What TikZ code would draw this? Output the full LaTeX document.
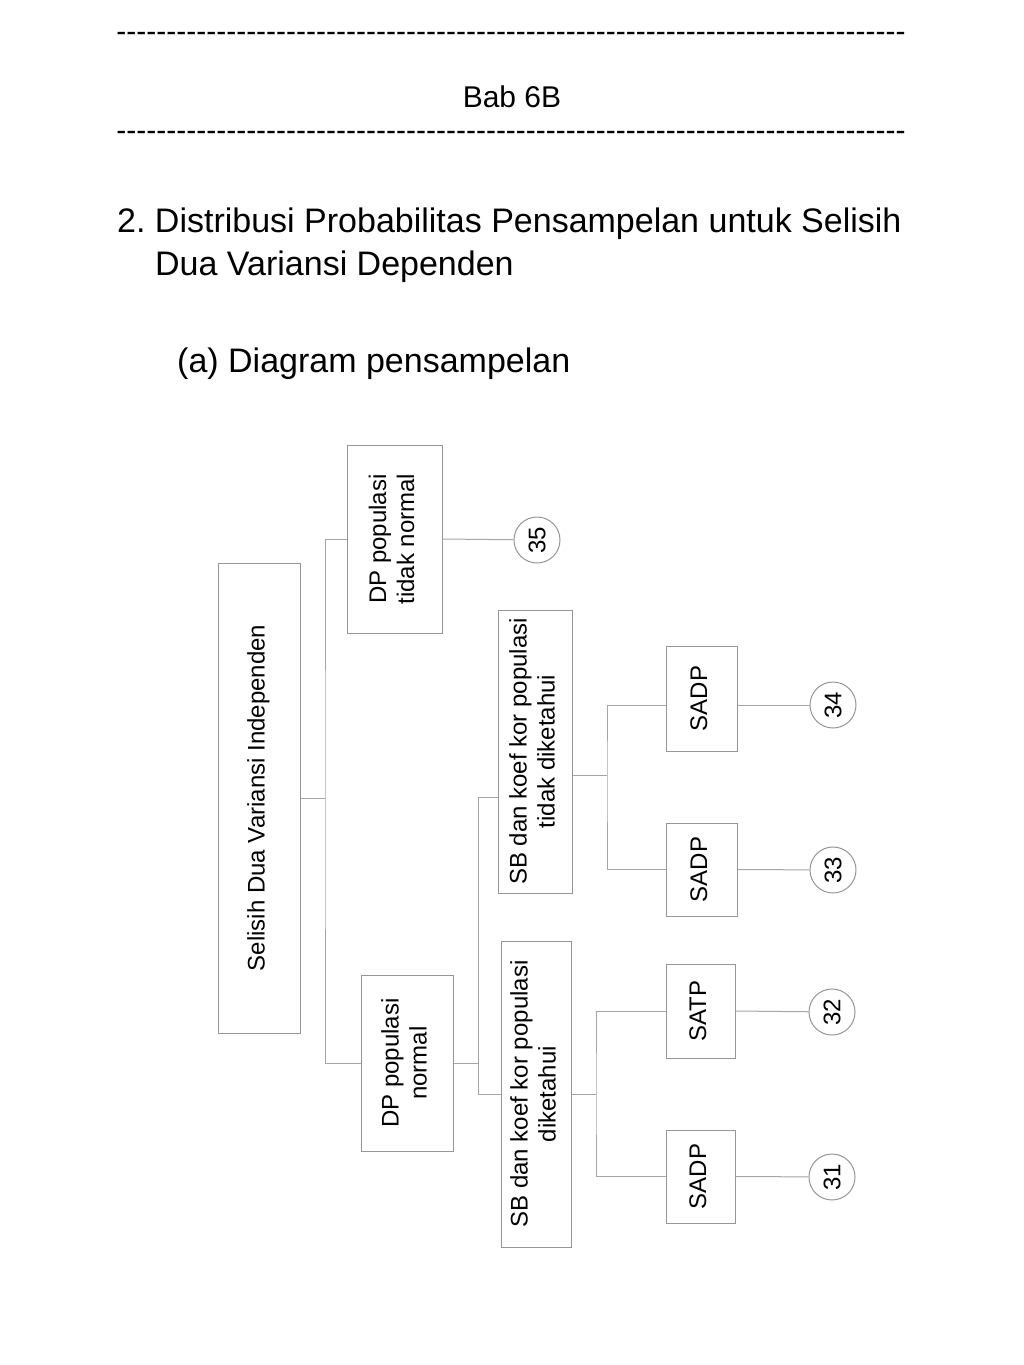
\documentclass[tikz,border=0pt]{standalone}
\usepackage{fontspec}
\setmainfont{Liberation Sans}
\usetikzlibrary{positioning}
\definecolor{boxgray}{RGB}{150,150,150}
\definecolor{linegray}{RGB}{165,165,165}
\newcommand{\dashrow}{\foreach \k in {1,...,79}{-}}
\newcommand{\vlabel}[1]{\rotatebox{90}{\begin{tabular}{@{}c@{}}#1\end{tabular}}}
\frenchspacing

\begin{document}
\begin{tikzpicture}[x=1pt, y=-1pt, every node/.style={font=\fontsize{24}{28}\selectfont},
      box/.style={draw=boxgray, line width=1pt, inner sep=0pt, fill=white},
      num/.style={draw=boxgray, line width=1pt, circle, minimum size=46pt, inner sep=0pt, fill=white},
      head/.style={font=\fontsize{30}{36}\selectfont},
      title/.style={font=\fontsize{34}{40}\selectfont, anchor=base west, inner sep=0pt},
      link/.style={draw=linegray, line width=1pt}]
    \useasboundingbox (0,0) rectangle (1024,1365);
    % header
    \node[head] (rule1) at (511,37) {\dashrow};
    \node[head] (chap) at (512,97) {Bab 6B};
    \node[head] (rule2) at (511,136) {\dashrow};
    \node[title] (title1) at (117,232) {2. Distribusi Probabilitas Pensampelan untuk Selisih};
    \node[title] (title2) at (155,275) {Dua Variansi Dependen};
    \node[title] (sub) at (177,372) {(a) Diagram pensampelan};
    % boxes
    \node[box, minimum width=82pt, minimum height=470pt] (sel) at (259,798) {\vlabel{Selisih Dua Variansi Independen}};
    \node[box, minimum width=95pt, minimum height=188pt] (dptn) at (394.5,539) {\vlabel{DP populasi\\tidak normal}};
    \node[box, minimum width=92pt, minimum height=176pt] (dpn) at (407,1063) {\vlabel{DP populasi\\normal}};
    \node[box, minimum width=74pt, minimum height=283pt] (sbt) at (535,751.5) {\vlabel{SB dan koef kor populasi\\tidak diketahui}};
    \node[box, minimum width=70pt, minimum height=306pt] (sbd) at (536,1094) {\vlabel{SB dan koef kor populasi\\diketahui}};
    \node[box, minimum width=71pt, minimum height=105pt] (sadp4) at (701.5,698.5) {\vlabel{SADP}};
    \node[box, minimum width=71pt, minimum height=93pt] (sadp3) at (701.5,869.5) {\vlabel{SADP}};
    \node[box, minimum width=69pt, minimum height=94pt] (satp) at (700.5,1011) {\vlabel{SATP}};
    \node[box, minimum width=69pt, minimum height=93pt] (sadp1) at (700.5,1176.5) {\vlabel{SADP}};
    % result numbers
    \node[num] (c35) at (537,540) {\rotatebox{90}{35}};
    \node[num] (c34) at (833,705) {\rotatebox{90}{34}};
    \node[num] (c33) at (833,870) {\rotatebox{90}{33}};
    \node[num] (c32) at (832,1012) {\rotatebox{90}{32}};
    \node[num] (c31) at (832,1177) {\rotatebox{90}{31}};
    % junctions
    \coordinate (k1) at (325,798);
    \coordinate (k2) at (478,797);
    \coordinate (k3) at (607,775);
    \coordinate (k4) at (596,1094);
    % connectors
    \draw[link] (sel.east) -- (k1);
    \draw[link] (dptn.west) -| (k1) |- (dpn.west);
    \draw[link] (dptn.east) -- (c35);
    \draw[link] (dpn.east) -| (k2) -- (k2 -| sbt.west);
    \draw[link] (k2) |- (sbd.west);
    \draw[link] (k3 -| sbt.east) -- (k3);
    \draw[link] (sadp4.west |- c34) -| (k3) |- (sadp3.west);
    \draw[link] (sadp4.east |- c34) -- (c34);
    \draw[link] (sadp3.east) -- (c33);
    \draw[link] (sbd.east) -- (k4);
    \draw[link] (satp.west) -| (k4) |- (sadp1.west);
    \draw[link] (satp.east) -- (c32);
    \draw[link] (sadp1.east) -- (c31);
\end{tikzpicture}
\end{document}
